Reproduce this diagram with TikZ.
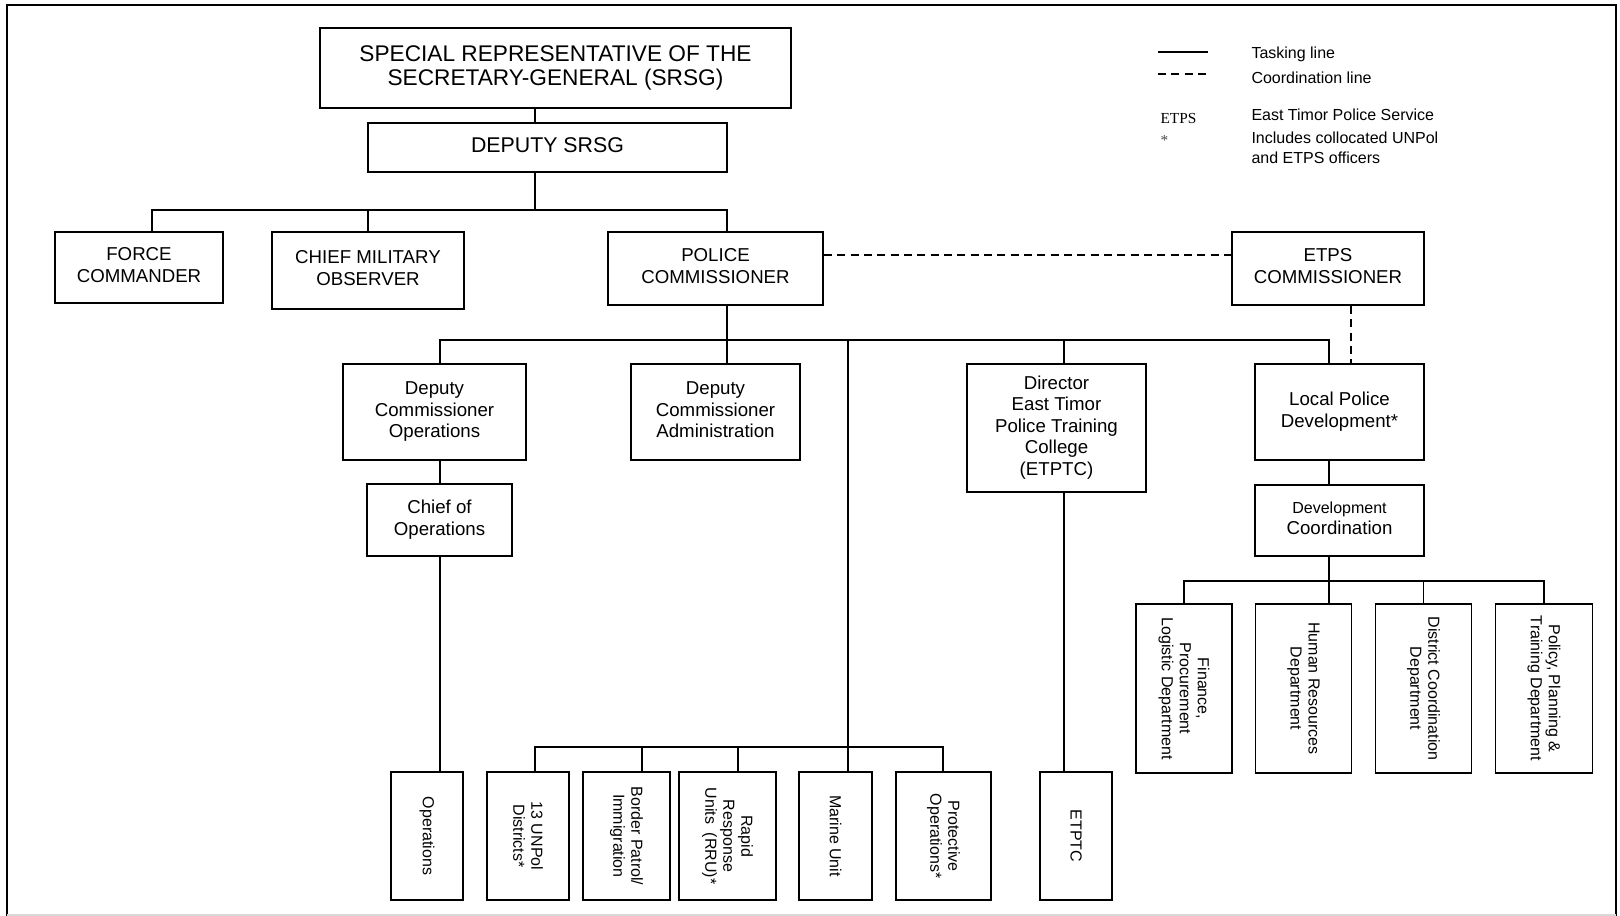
\documentclass[tikz,border=0pt]{standalone}
\usepackage{fontspec}
\setmainfont{Liberation Sans}
\newfontfamily\etpsserif{Liberation Serif}

\tikzset{every picture/.style={line width=0.75pt}}
\tikzset{
  basebox/.style={draw, line width=1.4pt, align=center, inner sep=0pt},
  box/.style={basebox, text depth=0.35em, font=\fontsize{14}{16.1}\selectfont},
  vbox/.style={basebox, rotate=-90, font=\fontsize{12}{13.5}\selectfont},
  taskline/.style={line width=1.3pt},
  coordline/.style={line width=1.3pt, dash pattern=on 6pt off 4pt},
  legendtext/.style={anchor=west, inner sep=0pt, align=left, font=\fontsize{12}{13.8}\selectfont}
}

\begin{document}
\begin{tikzpicture}[x=0.75pt,y=0.75pt,yscale=-1,xscale=1]
\useasboundingbox (0,0) rectangle (1620,916);

%Frame
\draw [line width=1.5pt] (7,916) -- (7,5) -- (1616,5) -- (1616,916) ;
\draw [black!15, line width=1pt] (7,915) -- (1616,915) ;

%Shape: Rectangle [top]
\node [box, minimum width=353.25pt, minimum height=60pt, font=\fontsize{17}{18.5}\selectfont] (srsg) at (555.5,68) {SPECIAL REPRESENTATIVE OF THE\\SECRETARY-GENERAL (SRSG)};
\node [box, minimum width=269.25pt, minimum height=36.75pt, font=\fontsize{16}{18}\selectfont] (dsrsg) at (547.5,147.5) {DEPUTY SRSG};
\node [box, minimum width=126pt, minimum height=53.25pt] (force) at (139,267.5) {FORCE\\COMMANDER};
\node [box, minimum width=144pt, minimum height=57.75pt] (cmo) at (368,270.5) {CHIEF MILITARY\\OBSERVER};
\node [box, minimum width=161.25pt, minimum height=54.75pt] (polcom) at (715.5,268.5) {POLICE\\COMMISSIONER};
\node [box, minimum width=144pt, minimum height=54.75pt] (etpscom) at (1328,268.5) {ETPS\\COMMISSIONER};

%Shape: Rectangle [middle]
\node [box, minimum width=137.25pt, minimum height=72pt] (dco) at (434.5,412) {Deputy\\Commissioner\\Operations};
\node [box, minimum width=126.75pt, minimum height=72pt] (dca) at (715.5,412) {Deputy\\Commissioner\\Administration};
\node [box, minimum width=134.25pt, minimum height=96pt] (dir) at (1056.5,428) {Director\\East Timor\\Police Training\\College\\(ETPTC)};
\node [box, minimum width=126.75pt, minimum height=72pt] (lpd) at (1339.5,412) {Local Police\\Development*};
\node [box, minimum width=108.75pt, minimum height=54pt] (chief) at (439.5,520) {Chief of\\Operations};
\node [box, minimum width=126.75pt, minimum height=53.25pt] (devco) at (1339.5,520.5) {{\fontsize{12}{14}\selectfont Development}\\Coordination};

%Shape: Rectangle [departments]
\node [vbox, minimum width=126.75pt, minimum height=72pt] (fin) at (1184,688.5) {Finance,\\Procurement\\Logistic Department};
\node [vbox, minimum width=126.75pt, minimum height=72pt] (hr) at (1303.5,688.5) {Human Resources\\Department};
\node [vbox, minimum width=126.75pt, minimum height=72pt] (dist) at (1423.5,688.5) {District Coordination\\Department};
\node [vbox, minimum width=126.75pt, minimum height=72.75pt] (policy) at (1544,688.5) {Policy, Planning \&\\Training Department};

%Shape: Rectangle [units]
\node [vbox, minimum width=96pt, minimum height=54pt] (ops) at (427,836) {Operations};
\node [vbox, minimum width=96pt, minimum height=61.5pt] (unpol) at (528,836) {13 UNPol\\Districts*};
\node [vbox, minimum width=96pt, minimum height=65.25pt] (border) at (626.5,836) {Border Patrol/\\Immigration};
\node [vbox, minimum width=96pt, minimum height=72.75pt] (rru) at (727.5,836) {Rapid\\Response\\Units\ \ (RRU)*};
\node [vbox, minimum width=96pt, minimum height=54.75pt] (marine) at (835.5,836) {Marine Unit};
\node [vbox, minimum width=96pt, minimum height=71.25pt] (protect) at (943.5,836) {Protective\\Operations*};
\node [vbox, minimum width=96pt, minimum height=54pt] (etptc) at (1076,836) {ETPTC};

%Straight Lines [tasking]
\coordinate (topbus) at (535,210);
\coordinate (fcdrop) at (152,210);
\coordinate (pcdrop) at (727,210);
\draw [taskline] (srsg.south -| topbus) -- (dsrsg.north -| topbus) ;
\draw [taskline] (dsrsg.south -| topbus) -- (topbus) ;
\draw [taskline] (fcdrop |- force.north) -- (fcdrop) -- (pcdrop) -- (pcdrop |- polcom.north) ;
\draw [taskline] (cmo.north) -- (cmo.north |- topbus) ;

\coordinate (polbus) at (727,340);
\coordinate (dcodrop) at (440,340);
\coordinate (lpddrop) at (1329,340);
\coordinate (dirdrop) at (1064,340);
\coordinate (trunk) at (848,340);
\draw [taskline] (polcom.south -| polbus) -- (polbus) -- (polbus |- dca.north) ;
\draw [taskline] (dcodrop |- dco.north) -- (dcodrop) -- (lpddrop) -- (lpddrop |- lpd.north) ;
\draw [taskline] (dirdrop) -- (dirdrop |- dir.north) ;
\draw [taskline] (trunk) -- (trunk |- marine.west) ;
\draw [taskline] (dco.south -| dcodrop) -- (chief.north -| dcodrop) ;
\draw [taskline] (chief.south -| dcodrop) -- (ops.west -| dcodrop) ;

\coordinate (opsbus) at (535,747);
\coordinate (bpdrop) at (642,747);
\coordinate (rrudrop) at (738,747);
\coordinate (protdrop) at (943,747);
\draw [taskline] (opsbus |- unpol.west) -- (opsbus) -- (protdrop) -- (protdrop |- protect.west) ;
\draw [taskline] (bpdrop) -- (bpdrop |- border.west) ;
\draw [taskline] (rrudrop) -- (rrudrop |- rru.west) ;
\draw [taskline] (dir.south -| dirdrop) -- (etptc.west -| dirdrop) ;

\draw [taskline] (lpd.south -| lpddrop) -- (devco.north -| lpddrop) ;
\coordinate (devbus) at (1329,581);
\coordinate (findrop) at (1184,581);
\coordinate (poldrop) at (1544,581);
\draw [taskline] (devco.south -| devbus) -- (hr.west -| devbus) ;
\draw [taskline] (findrop |- fin.west) -- (findrop) -- (poldrop) -- (poldrop |- policy.west) ;
\draw [taskline] (dist.west) -- (dist.west |- devbus) ;

%Straight Lines [coordination]
\coordinate (dashy) at (0,255);
\coordinate (dashx) at (1351,0);
\draw [coordline] (polcom.east |- dashy) -- (etpscom.west |- dashy) ;
\draw [coordline] (etpscom.south -| dashx) -- (lpd.north -| dashx) ;

%Legend
\draw [taskline] (1158,52) -- (1208,52) ;
\draw [coordline] (1158,74) -- (1208,74) ;
% Text Node
\node [legendtext] (tasklbl) at (1251,54) {Tasking line};
% Text Node
\node [legendtext] (coordlbl) at (1251,78) {Coordination line};
% Text Node
\node [legendtext, font=\etpsserif\fontsize{11.5}{13}\selectfont] (etpsabbr) at (1160,119) {ETPS};
% Text Node
\node [legendtext] (etpslbl) at (1251,115) {East Timor Police Service};
% Text Node
\node [legendtext, font=\etpsserif\fontsize{11.5}{13}\selectfont, text=black!70] (star) at (1160,140) {*};
% Text Node
\node [legendtext, font=\fontsize{12}{14.6}\selectfont] (starlbl) at (1251,148) {Includes collocated UNPol\\and ETPS officers};

\end{tikzpicture}
\end{document}
